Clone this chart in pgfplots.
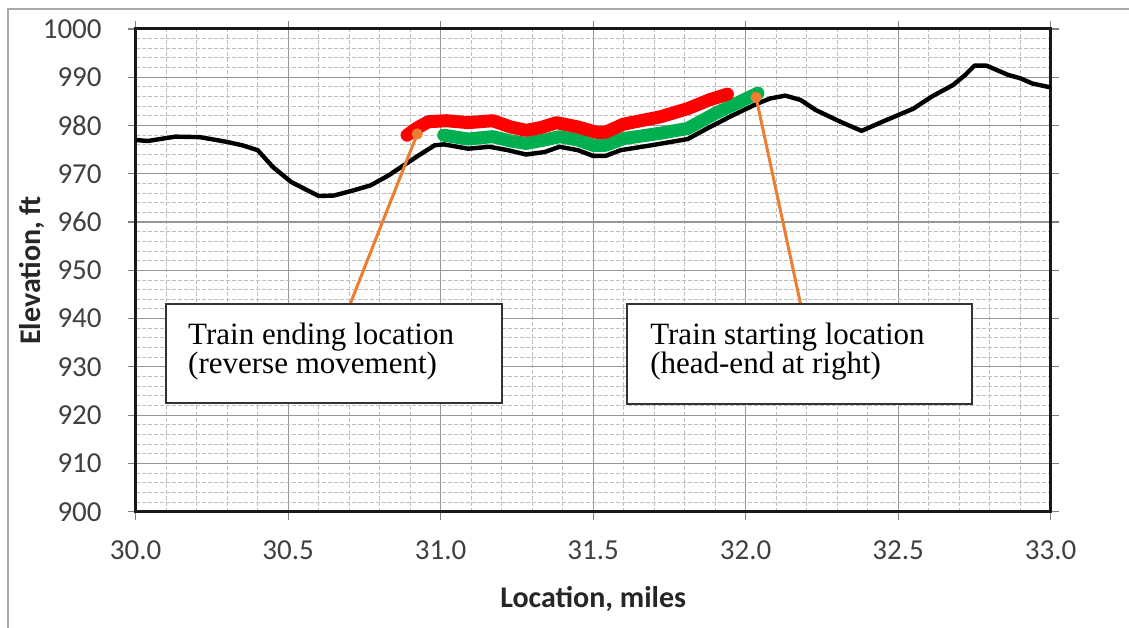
\documentclass[border=0pt]{standalone}
\usepackage{pgfplots}
\pgfplotsset{compat=1.18}
\usepackage{fontspec}
\setmainfont{Carlito}
\newfontfamily\boxfont{Liberation Serif}
\definecolor{trackred}{RGB}{255,0,0}
\definecolor{trackgreen}{RGB}{0,176,80}
\definecolor{calloutorange}{RGB}{237,125,49}
\definecolor{gridmajor}{RGB}{150,150,150}
\definecolor{gridminor}{RGB}{190,190,190}
\definecolor{chartframe}{RGB}{170,170,170}

\pgfplotstableread{
x y
30.00 977.0
30.04 976.8
30.13 977.7
30.21 977.6
30.30 976.6
30.35 975.9
30.40 974.9
30.45 971.4
30.51 968.3
30.55 967.0
30.60 965.4
30.65 965.5
30.71 966.5
30.77 967.6
30.83 969.7
30.92 973.5
30.98 975.9
31.01 976.1
31.09 975.2
31.16 975.6
31.22 974.9
31.28 974.0
31.34 974.5
31.39 975.6
31.45 974.9
31.50 973.7
31.54 973.7
31.59 974.9
31.69 975.9
31.81 977.2
31.88 979.6
31.96 982.2
32.04 984.6
32.08 985.6
32.13 986.2
32.18 985.3
32.23 983.2
32.31 980.8
32.38 978.9
32.46 981.1
32.55 983.5
32.61 986.0
32.68 988.4
32.72 990.5
32.75 992.4
32.79 992.4
32.86 990.5
32.90 989.8
32.94 988.7
33.00 987.9
}\profile

\pgfplotstableread{
x y
30.89 978.0
30.92 979.4
30.96 980.8
31.02 981.0
31.09 980.6
31.17 981.0
31.23 979.7
31.28 979.0
31.33 979.6
31.38 980.6
31.45 979.7
31.51 978.6
31.54 978.6
31.60 980.3
31.72 981.8
31.81 983.5
31.88 985.3
31.94 986.5
}\ending

\pgfplotstableread{
x y
31.01 978.0
31.09 977.2
31.17 977.7
31.23 976.8
31.28 976.3
31.34 977.0
31.39 977.7
31.45 977.0
31.50 975.9
31.54 975.9
31.60 977.3
31.72 978.4
31.81 979.4
31.90 982.5
31.98 984.9
32.04 986.7
}\starting

\begin{document}
\begin{tikzpicture}
\begin{axis}[
  scale only axis,
  width=457.5pt, height=241.35pt,
  xmin=30, xmax=33, ymin=900, ymax=1000,
  xtick={30,30.5,31,31.5,32,32.5,33},
  ytick={900,910,...,1000},
  minor x tick num=4, minor y tick num=4,
  grid=both,
  major grid style={gridmajor, line width=0.6pt},
  minor grid style={gridminor, dash pattern=on 2pt off 1pt, line width=0.5pt},
  axis line style={line width=1.5pt, black!90},
  tick align=outside,
  major tick length=4pt, minor tick length=0pt,
  tick style={black!50, line width=0.6pt},
  /pgf/number format/assume math mode=true,
  /pgf/number format/1000 sep={},
  x tick label style={yshift=-7pt, /pgf/number format/.cd, fixed, fixed zerofill, precision=1},
  y tick label style={xshift=-9.5pt},
  ticklabel style={font=\fontsize{14.5}{16}\selectfont, text=black!75},
  xlabel={Location, miles},
  ylabel={Elevation, ft},
  label style={font=\bfseries\fontsize{15}{17}\selectfont, text=black!85},
  xlabel style={at={(axis description cs:0.5,-0.181)}, anchor=center},
  ylabel style={at={(axis description cs:-0.1133,0.5)}, anchor=center},
  clip=false,
]
% outer chart-area frame and page extent
\coordinate (pagebl) at (rel axis cs:-0.1483,-0.2389);
\coordinate (pagetr) at (rel axis cs:1.0856,1.0601);
\coordinate (frametl) at (rel axis cs:-0.1396,1.0414);
\coordinate (framebr) at (rel axis cs:1.2,-0.4);
\draw[chartframe, line width=1.2pt] (frametl) rectangle (framebr);

\addplot[black, line width=2.2pt, line join=round] table {\profile};
\addplot[trackgreen, line width=6.5pt, line cap=round, line join=round] table {\starting};
\addplot[trackred, line width=6.5pt, line cap=round, line join=round] table {\ending};

% callout leaders
\addplot[calloutorange, line width=1.5pt] coordinates {(30.703,943.0) (30.923,978.25)};
\addplot[calloutorange, line width=1.5pt] coordinates {(32.180,943.0) (32.034,985.85)};
\addplot[calloutorange, only marks, mark=*, mark size=2.6pt] coordinates {(30.923,978.25) (32.034,985.85)};

% callout boxes
\draw[black!80, line width=1pt, fill=white] (axis cs:30.098,943.03) rectangle (axis cs:31.201,922.5);
\draw[black!80, line width=1pt, fill=white] (axis cs:31.611,943.03) rectangle (axis cs:32.741,922.4);
\node[anchor=base west, inner sep=0pt, font=\boxfont\fontsize{15.5}{17}\selectfont] at (axis cs:30.171,934.7) {Train ending location};
\node[anchor=base west, inner sep=0pt, font=\boxfont\fontsize{15.5}{17}\selectfont] at (axis cs:30.171,928.6) {(reverse movement)};
\node[anchor=base west, inner sep=0pt, font=\boxfont\fontsize{15.5}{17}\selectfont] at (axis cs:31.686,934.7) {Train starting location};
\node[anchor=base west, inner sep=0pt, font=\boxfont\fontsize{15.5}{17}\selectfont] at (axis cs:31.686,928.6) {(head-end at right)};
\end{axis}
\pgfresetboundingbox
\path (pagebl) rectangle (pagetr);
\end{tikzpicture}
\end{document}
